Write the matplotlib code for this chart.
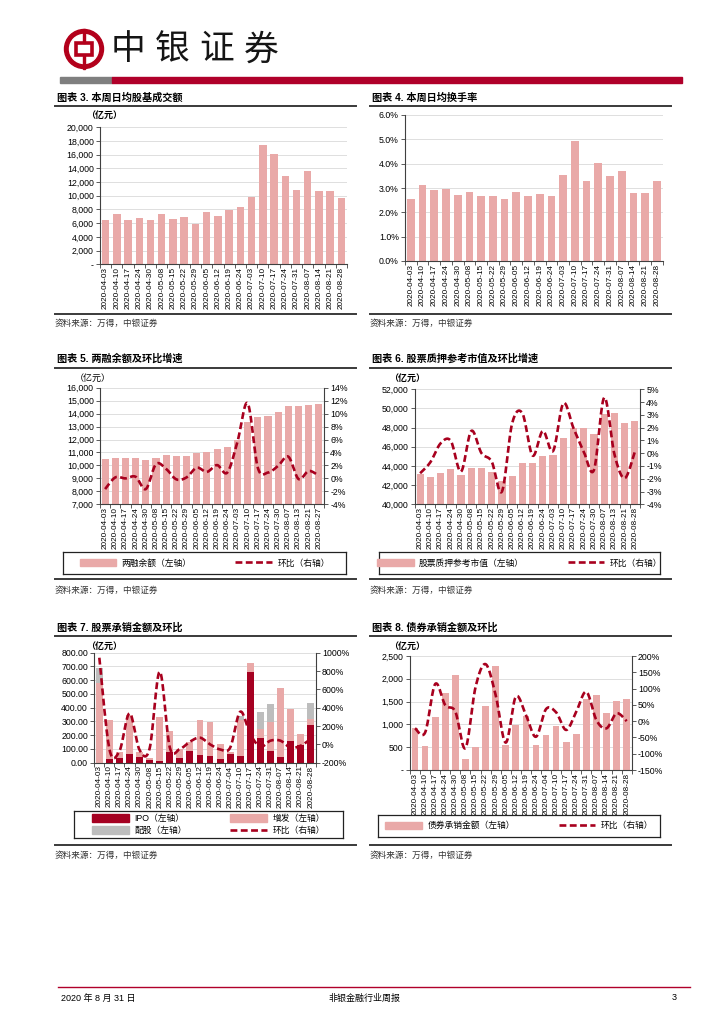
import matplotlib
matplotlib.use('Agg')
import matplotlib.pyplot as plt
import numpy as np
from matplotlib.patches import Rectangle, Circle, Patch
from matplotlib.lines import Line2D
from matplotlib.ticker import FuncFormatter

plt.rcParams['font.family'] = ['Liberation Sans', 'Noto Sans CJK SC', 'DejaVu Sans']

# ---------------- data ----------------
dates3 = ['2020-04-03', '2020-04-10', '2020-04-17', '2020-04-24', '2020-04-30', '2020-05-08',
          '2020-05-15', '2020-05-22', '2020-05-29', '2020-06-05', '2020-06-12', '2020-06-19',
          '2020-06-24', '2020-07-03', '2020-07-10', '2020-07-17', '2020-07-24', '2020-07-31',
          '2020-08-07', '2020-08-14', '2020-08-21', '2020-08-28']
turnover_amt = [6400, 7300, 6520, 6720, 6520, 7400, 6620, 6960, 5890, 7640, 7100, 7980,
                8320, 9880, 17370, 16060, 12940, 10800, 13580, 10750, 10700, 9680]

dates4 = dates3
turnover_rate = [2.55, 3.14, 2.93, 2.95, 2.71, 2.84, 2.66, 2.67, 2.56, 2.84, 2.67, 2.77,
                 2.67, 3.52, 4.92, 3.27, 4.03, 3.49, 3.68, 2.79, 2.81, 3.27]

dates5 = ['2020-04-03', '2020-04-10', '2020-04-17', '2020-04-24', '2020-04-30', '2020-05-08',
          '2020-05-15', '2020-05-22', '2020-05-29', '2020-06-05', '2020-06-12', '2020-06-19',
          '2020-06-24', '2020-07-03', '2020-07-10', '2020-07-17', '2020-07-24', '2020-07-30',
          '2020-08-07', '2020-08-13', '2020-08-21', '2020-08-27']
margin_bal = [10500, 10550, 10550, 10570, 10390, 10600, 10780, 10730, 10730, 10930, 11010, 11270,
              11400, 11960, 13380, 13740, 13840, 14120, 14560, 14560, 14690, 14740]
margin_chg = [-1.65, 0.15, 0.0, 0.25, -1.65, 2.2, 1.45, -0.15, 0.15, 1.65, 1.0, 2.05,
              0.9, 5.65, 11.6, 1.65, 0.9, 1.95, 3.35, -0.1, 1.15, 0.4]

dates6 = ['2020-04-03', '2020-04-10', '2020-04-17', '2020-04-24', '2020-04-30', '2020-05-08',
          '2020-05-15', '2020-05-22', '2020-05-29', '2020-06-05', '2020-06-12', '2020-06-19',
          '2020-06-24', '2020-07-03', '2020-07-10', '2020-07-17', '2020-07-24', '2020-07-30',
          '2020-08-07', '2020-08-13', '2020-08-21', '2020-08-28']
pledge_val = [43130, 42850, 43230, 43650, 43030, 43760, 43760, 43410, 42400, 42960, 44350, 44280,
              45080, 45110, 46890, 47930, 47930, 47340, 49390, 49530, 48520, 48700]
pledge_chg = [-1.57, -0.71, 0.77, 0.96, -1.44, 1.74, 0.0, -0.66, -3.0, 2.34, 3.12, -0.19,
              1.74, 0.17, 3.9, 1.95, 0.12, -1.31, 4.35, -0.09, -1.96, 0.12]

dates7 = ['2020-04-03', '2020-04-10', '2020-04-17', '2020-04-24', '2020-04-30', '2020-05-08',
          '2020-05-15', '2020-05-22', '2020-05-29', '2020-06-05', '2020-06-12', '2020-06-19',
          '2020-06-24', '2020-07-04', '2020-07-10', '2020-07-17', '2020-07-24', '2020-07-31',
          '2020-08-07', '2020-08-14', '2020-08-21', '2020-08-28']
ipo_amt = [0, 27, 36, 65, 44, 17, 15, 78, 36, 85, 56, 51, 24, 60, 48, 662, 177, 87, 44, 158, 128, 273]
seo_amt = [580, 283, 44, 285, 31, 19, 315, 152, 64, 65, 254, 242, 114, 20, 262, 65, 68, 206, 501, 232, 82, 45]
rights_amt = [110, 0, 0, 0, 0, 0, 0, 0, 0, 0, 0, 0, 0, 0, 30, 0, 126, 134, 0, 0, 0, 114]
equity_chg = [945, -51, -73, 338, -62, -44, 793, -33, -51, 29, 73, 0, -55, -36, 356, 110,
              -25, 40, 40, -36, -15, 58]

dates8 = dates7
bond_amt = [914, 526, 1162, 1681, 2083, 249, 497, 1404, 2273, 548, 987, 1184,
            541, 760, 965, 621, 797, 1550, 1645, 1243, 1520, 1557]
bond_chg = [-22, -35, 114, 49, 29, -83, 104, 175, 80, -66, 75, 19,
            -48, 37, 27, -27, 29, 90, 3, -22, 24, 0]

header_chars = ['中', '银', '证', '券']

# ---------------- styles ----------------
W, H = 724, 1024
PINK = '#E9A9A8'
IPO_C = '#A50021'
GRAY = '#BDBDBD'
LINE_C = '#A8001E'
GRID = '#D9D9D9'
SPINE = '#404040'

fig = plt.figure(figsize=(W / 100, H / 100), dpi=100)


def add_ax(l, t, r, b):
    return fig.add_axes([l / W, 1 - b / H, (r - l) / W, (b - t) / H])


def ftext(x, y, s, **kw):
    fig.text(x / W, 1 - y / H, s, **kw)


def hline(x0, x1, y, color, lw):
    fig.add_artist(Line2D([x0 / W, x1 / W], [1 - y / H, 1 - y / H], color=color, lw=lw,
                          transform=fig.transFigure))


def smooth(xs, ys, n=16):
    pts = np.column_stack([xs, ys]).astype(float)
    P = np.vstack([pts[0], pts, pts[-1]])
    out = []
    t = np.linspace(0, 1, n, endpoint=False)[:, None]
    for i in range(1, len(P) - 2):
        p0, p1, p2, p3 = P[i - 1], P[i], P[i + 1], P[i + 2]
        seg = 0.5 * ((2 * p1) + (-p0 + p2) * t + (2 * p0 - 5 * p1 + 4 * p2 - p3) * t ** 2
                     + (-p0 + 3 * p1 - 3 * p2 + p3) * t ** 3)
        out.append(seg)
    out.append(pts[-1:])
    a = np.vstack(out)
    return a[:, 0], a[:, 1]


def base_ax(ax, labels):
    n = len(labels)
    ax.set_xlim(-0.5, n - 0.5)
    ax.set_xticks(range(n))
    ax.set_xticklabels(labels, rotation=90, fontsize=5.9)
    ax.tick_params(axis='x', which='major', length=0, pad=2)
    ax.set_xticks(np.arange(-0.5, n, 1), minor=True)
    ax.tick_params(axis='x', which='minor', length=3, color=SPINE, width=0.6)
    for s in ['top', 'right']:
        ax.spines[s].set_visible(False)
    for s in ['left', 'bottom']:
        ax.spines[s].set_color(SPINE)
        ax.spines[s].set_linewidth(0.8)
    ax.grid(axis='y', color=GRID, lw=0.6)
    ax.set_axisbelow(True)
    ax.tick_params(axis='y', labelsize=6.3, length=3, pad=1.5, color=SPINE, width=0.6)


def right_ax(ax):
    ax2 = ax.twinx()
    for s in ['top', 'left', 'bottom']:
        ax2.spines[s].set_visible(False)
    ax2.spines['right'].set_color(SPINE)
    ax2.spines['right'].set_linewidth(0.8)
    ax2.tick_params(axis='y', labelsize=6.3, length=3, pad=1.5, color=SPINE, width=0.6)
    return ax2


def panel_frame(col, title, y_title, y_uline, y_src_line, y_src):
    if col == 0:
        x0, x1, xt = 55, 356, 57
    else:
        x0, x1, xt = 370, 671, 372
    ftext(xt, y_title, title, fontsize=7.3, fontweight='bold', va='center', ha='left')
    hline(x0, x1, y_uline, '#3a3a3a', 1.4)
    hline(x0, x1, y_src_line, '#3a3a3a', 1.4)
    ftext(xt - 2, y_src, '资料来源：万得，中银证券', fontsize=6.2, va='center', ha='left',
          style='italic', color='#333333')


def unit(x, y):
    ftext(x, y, '（亿元）', fontsize=6.5, fontweight='bold', va='center', ha='center')


def legend_box(l, t, r, b, handles, labels, ncol):
    lax = add_ax(l, t, r, b)
    lax.set_xticks([]); lax.set_yticks([])
    for s in lax.spines.values():
        s.set_color('#222222'); s.set_linewidth(0.9)
    lax.patch.set_alpha(0)
    lax.legend(handles, labels, loc='center', ncol=ncol, frameon=False, fontsize=6.3,
               handlelength=4.2, handleheight=0.9, columnspacing=5, handletextpad=0.6,
               labelspacing=0.35)


def comma(v, pos):
    return '-' if v == 0 else f'{v:,.0f}'


dash = (0, (2.6, 1.3))

# ---------------- header ----------------
hax = add_ax(57, 25, 117, 75)
hax.set_xlim(0, 60); hax.set_ylim(50, 0); hax.set_aspect('equal'); hax.axis('off')
hax.add_patch(Circle((27, 24), 19.5, color='#B3001B'))
hax.add_patch(Circle((27, 24), 14.5, color='white'))
hax.add_patch(Rectangle((19, 18), 16, 12, fc='none', ec='#B3001B', lw=2.6))
hax.add_patch(Rectangle((25.6, 4), 2.8, 14, color='#B3001B'))
hax.add_patch(Rectangle((25.6, 30), 2.8, 14, color='#B3001B'))
for i, ch in enumerate(header_chars):
    ftext(128 + i * 44.5, 50, ch, fontsize=25, va='center', ha='center', color='#151515')
fig.add_artist(Rectangle((60 / W, 1 - 83 / H), 52 / W, 6 / H, color='#7F7F7F', transform=fig.transFigure))
fig.add_artist(Rectangle((112 / W, 1 - 83 / H), 570 / W, 6 / H, color='#B0002A', transform=fig.transFigure))

# ---------------- footer ----------------
hline(58, 690, 987, '#B0002A', 1.0)
ftext(61, 998, '2020 年 8 月 31 日', fontsize=6.5, va='center', ha='left')
ftext(364, 998, '非银金融行业周报', fontsize=6.5, va='center', ha='center')
ftext(677, 998, '3', fontsize=6.5, va='center', ha='right')

# ---------------- chart 3 ----------------
panel_frame(0, '图表 3. 本周日均股基成交额', 97.5, 105.5, 313.5, 323)
unit(104, 115.5)
ax = add_ax(100, 127.3, 347, 264.3)
base_ax(ax, dates3)
ax.bar(range(len(dates3)), turnover_amt, width=0.66, color=PINK)
ax.set_ylim(0, 20000)
ax.set_yticks(np.arange(0, 20001, 2000))
ax.yaxis.set_major_formatter(FuncFormatter(comma))

# ---------------- chart 4 ----------------
panel_frame(1, '图表 4. 本周日均换手率', 97.5, 105.5, 313.5, 323)
ax = add_ax(405, 115, 662.7, 261)
base_ax(ax, dates4)
ax.bar(range(len(dates4)), turnover_rate, width=0.66, color=PINK)
ax.set_ylim(0, 6)
ax.set_yticks(np.arange(0, 6.01, 1))
ax.yaxis.set_major_formatter(FuncFormatter(lambda v, p: f'{v:.1f}%'))

# ---------------- chart 5 ----------------
panel_frame(0, '图表 5. 两融余额及环比增速', 359, 367.7, 579.3, 590)
ftext(93, 378, '（亿元）', fontsize=6.5, va='center', ha='center')
ax = add_ax(100, 387.7, 324, 504.3)
base_ax(ax, dates5)
x5 = np.arange(len(dates5))
ax.bar(x5, margin_bal, width=0.7, color=PINK)
ax.set_ylim(7000, 16000)
ax.set_yticks(np.arange(7000, 16001, 1000))
ax.yaxis.set_major_formatter(FuncFormatter(lambda v, p: f'{v:,.0f}'))
ax2 = right_ax(ax)
sx, sy = smooth(x5, margin_chg)
ax2.plot(sx, sy, color=LINE_C, lw=1.9, ls=dash)
ax2.set_ylim(-4, 14)
ax2.set_yticks(np.arange(-4, 14.1, 2))
ax2.yaxis.set_major_formatter(FuncFormatter(lambda v, p: f'{v:.0f}%'))
legend_box(63.3, 552.3, 346, 574.3,
           [Patch(color=PINK), Line2D([], [], color=LINE_C, lw=1.9, ls=dash)],
           ['两融余额（左轴）', '环比（右轴）'], 2)

# ---------------- chart 6 ----------------
panel_frame(1, '图表 6. 股票质押参考市值及环比增速', 359, 367.7, 579.3, 590)
unit(407, 378)
ax = add_ax(415, 389.3, 640, 504.3)
base_ax(ax, dates6)
x6 = np.arange(len(dates6))
ax.bar(x6, pledge_val, width=0.7, color=PINK)
ax.set_ylim(40000, 52000)
ax.set_yticks(np.arange(40000, 52001, 2000))
ax.yaxis.set_major_formatter(FuncFormatter(lambda v, p: f'{v:,.0f}'))
ax2 = right_ax(ax)
sx, sy = smooth(x6, pledge_chg)
ax2.plot(sx, sy, color=LINE_C, lw=1.9, ls=dash)
ax2.set_ylim(-4, 5)
ax2.set_yticks(np.arange(-4, 5.1, 1))
ax2.yaxis.set_major_formatter(FuncFormatter(lambda v, p: f'{v:.0f}%'))
legend_box(379, 552, 660, 574,
           [Patch(color=PINK), Line2D([], [], color=LINE_C, lw=1.9, ls=dash)],
           ['股票质押参考市值（左轴）', '环比（右轴）'], 2)

# ---------------- chart 7 ----------------
panel_frame(0, '图表 7. 股票承销金额及环比', 627.3, 636.3, 845, 855)
unit(104, 646.7)
ax = add_ax(94.3, 652.7, 315.7, 762.7)
base_ax(ax, dates7)
x7 = np.arange(len(dates7))
ipo = np.array(ipo_amt); seo = np.array(seo_amt); rig = np.array(rights_amt)
ax.bar(x7, ipo, width=0.68, color=IPO_C)
ax.bar(x7, seo, bottom=ipo, width=0.68, color=PINK)
ax.bar(x7, rig, bottom=ipo + seo, width=0.68, color=GRAY)
ax.set_ylim(0, 800)
ax.set_yticks(np.arange(0, 801, 100))
ax.yaxis.set_major_formatter(FuncFormatter(lambda v, p: f'{v:.2f}'))
ax2 = right_ax(ax)
sx, sy = smooth(x7, equity_chg)
ax2.plot(sx, sy, color=LINE_C, lw=1.9, ls=dash)
ax2.set_ylim(-200, 1000)
ax2.set_yticks(np.arange(-200, 1001, 200))
ax2.yaxis.set_major_formatter(FuncFormatter(lambda v, p: f'{v:.0f}%'))
legend_box(74, 811, 343, 838,
           [Patch(color=IPO_C), Patch(color=GRAY), Patch(color=PINK),
            Line2D([], [], color=LINE_C, lw=1.9, ls=dash)],
           ['IPO（左轴）', '配股（左轴）', '增发（左轴）', '环比（右轴）'], 2)

# ---------------- chart 8 ----------------
panel_frame(1, '图表 8. 债券承销金额及环比', 627.3, 636.3, 845, 855)
unit(407, 646.7)
ax = add_ax(410, 656, 631.7, 770)
base_ax(ax, dates8)
x8 = np.arange(len(dates8))
ax.bar(x8, bond_amt, width=0.66, color=PINK)
ax.set_ylim(0, 2500)
ax.set_yticks(np.arange(0, 2501, 500))
ax.yaxis.set_major_formatter(FuncFormatter(comma))
ax2 = right_ax(ax)
sx, sy = smooth(x8, bond_chg)
ax2.plot(sx, sy, color=LINE_C, lw=1.9, ls=dash)
ax2.set_ylim(-150, 200)
ax2.set_yticks(np.arange(-150, 201, 50))
ax2.yaxis.set_major_formatter(FuncFormatter(lambda v, p: f'{v:.0f}%'))
legend_box(378.3, 815, 660, 836.7,
           [Patch(color=PINK), Line2D([], [], color=LINE_C, lw=1.9, ls=dash)],
           ['债券承销金额（左轴）', '环比（右轴）'], 2)

fig.savefig('out.png', dpi=100)
